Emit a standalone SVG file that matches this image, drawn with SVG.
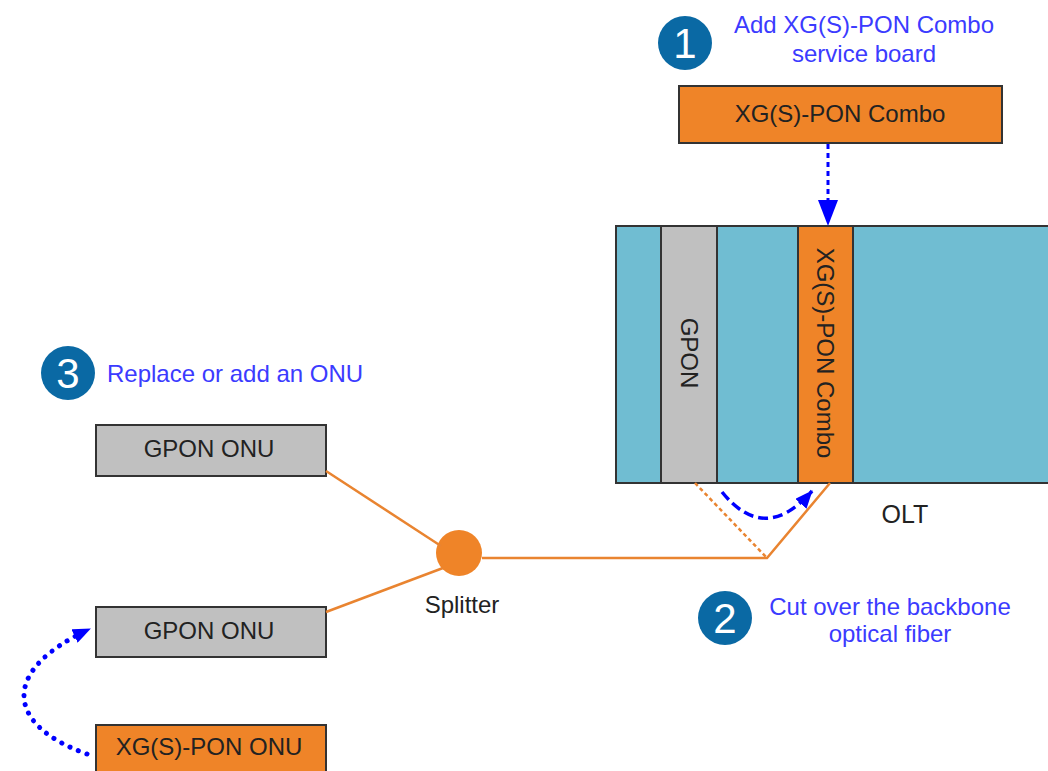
<svg xmlns="http://www.w3.org/2000/svg" width="1048" height="771" viewBox="0 0 1048 771">
  <style>
    .lbl { font-family: "Liberation Sans", Arial, sans-serif; font-size: 24px; fill: #222; }
    .step { font-family: "Liberation Sans", Arial, sans-serif; font-size: 24px; fill: #3b3bff; }
    .num { font-family: "Liberation Sans", Arial, sans-serif; font-size: 42px; fill: #fff; }
    .badge { fill: #0a69a4; }
    .board { stroke: #333; stroke-width: 2; }
    .orange { fill: #ef8428; }
    .gray { fill: #c0c0c0; }
    .fiber { stroke: #e98430; stroke-width: 2.5; fill: none; }
  </style>
  <defs>
    <marker id="arrowBig" viewBox="0 0 26 20" refX="25" refY="10" markerWidth="26" markerHeight="20" orient="auto" markerUnits="userSpaceOnUse">
      <path d="M0 0 L26 10 L0 20 Z" fill="#0000ff"/>
    </marker>
    <marker id="arrowSmall" viewBox="0 0 18 15" refX="17" refY="7.5" markerWidth="18" markerHeight="15" orient="auto" markerUnits="userSpaceOnUse">
      <path d="M0 0 L18 7.5 L0 15 Z" fill="#0000ff"/>
    </marker>
  </defs>

  <rect width="1048" height="771" fill="#fff"/>

  <!-- OLT chassis -->
  <g id="olt">
    <rect x="616" y="226" width="440" height="257" fill="#70bdd2" stroke="#333" stroke-width="2"/>
    <text class="lbl" x="905" y="523" text-anchor="middle" style="font-size:25px">OLT</text>
  </g>
  <g id="olt-gpon-board">
    <rect class="board gray" x="661" y="226" width="56" height="257"/>
    <text class="lbl" transform="translate(681,353) rotate(90)" text-anchor="middle">GPON</text>
  </g>
  <g id="olt-combo-board">
    <rect class="board orange" x="798" y="226" width="55" height="257"/>
    <text class="lbl" transform="translate(817,353) rotate(90)" text-anchor="middle">XG(S)-PON Combo</text>
  </g>

  <!-- new service board -->
  <g id="combo-board">
    <rect class="board orange" x="679" y="86" width="323" height="57"/>
    <text class="lbl" x="840" y="122" text-anchor="middle">XG(S)-PON Combo</text>
  </g>

  <!-- splitter -->
  <g id="splitter">
    <circle cx="459" cy="553" r="23" fill="#ef8428"/>
    <text class="lbl" x="462" y="613" text-anchor="middle">Splitter</text>
  </g>

  <!-- ONUs -->
  <g id="onu-gpon-1">
    <rect class="board gray" x="96" y="425" width="230" height="51"/>
    <text class="lbl" x="209" y="457" text-anchor="middle">GPON ONU</text>
  </g>
  <g id="onu-gpon-2">
    <rect class="board gray" x="96" y="607" width="230" height="50"/>
    <text class="lbl" x="209" y="639" text-anchor="middle">GPON ONU</text>
  </g>
  <g id="onu-xgs">
    <rect class="board orange" x="96" y="725" width="230" height="60"/>
    <text class="lbl" x="209" y="755" text-anchor="middle">XG(S)-PON ONU</text>
  </g>

  <!-- step badges -->
  <g id="step-1">
    <circle class="badge" cx="685" cy="43" r="27"/>
    <text class="num" x="685" y="58" text-anchor="middle">1</text>
    <text class="step" x="864" y="33" text-anchor="middle">Add XG(S)-PON Combo</text>
    <text class="step" x="864" y="62" text-anchor="middle">service board</text>
  </g>
  <g id="step-2">
    <circle class="badge" cx="725" cy="618" r="27"/>
    <text class="num" x="725" y="633" text-anchor="middle">2</text>
    <text class="step" x="890" y="615" text-anchor="middle">Cut over the backbone</text>
    <text class="step" x="890" y="642" text-anchor="middle">optical fiber</text>
  </g>
  <g id="step-3">
    <circle class="badge" cx="68" cy="373" r="27"/>
    <text class="num" x="68" y="388" text-anchor="middle">3</text>
    <text class="step" x="107" y="382">Replace or add an ONU</text>
  </g>

  <!-- connectors -->
  <g id="connectors">
    <line class="fiber" x1="326" y1="471" x2="441" y2="546"/>
    <line class="fiber" x1="326" y1="612" x2="443" y2="568"/>
    <polyline class="fiber" points="482,558 767,558 830,483"/>
    <line class="fiber" x1="695" y1="483" x2="767" y2="558" stroke-dasharray="4 3"/>
    <line x1="828" y1="144" x2="828" y2="225" stroke="#0000ff" stroke-width="3" stroke-dasharray="5 4" marker-end="url(#arrowBig)"/>
    <path d="M722 492 Q765 545 812 491" fill="none" stroke="#0000ff" stroke-width="3.5" stroke-dasharray="10 5" marker-end="url(#arrowSmall)"/>
    <path d="M87 754 C5 725 0 670 90 629" fill="none" stroke="#0000ff" stroke-width="5" stroke-dasharray="0.1 9" stroke-linecap="round" marker-end="url(#arrowSmall)"/>
  </g>
</svg>
